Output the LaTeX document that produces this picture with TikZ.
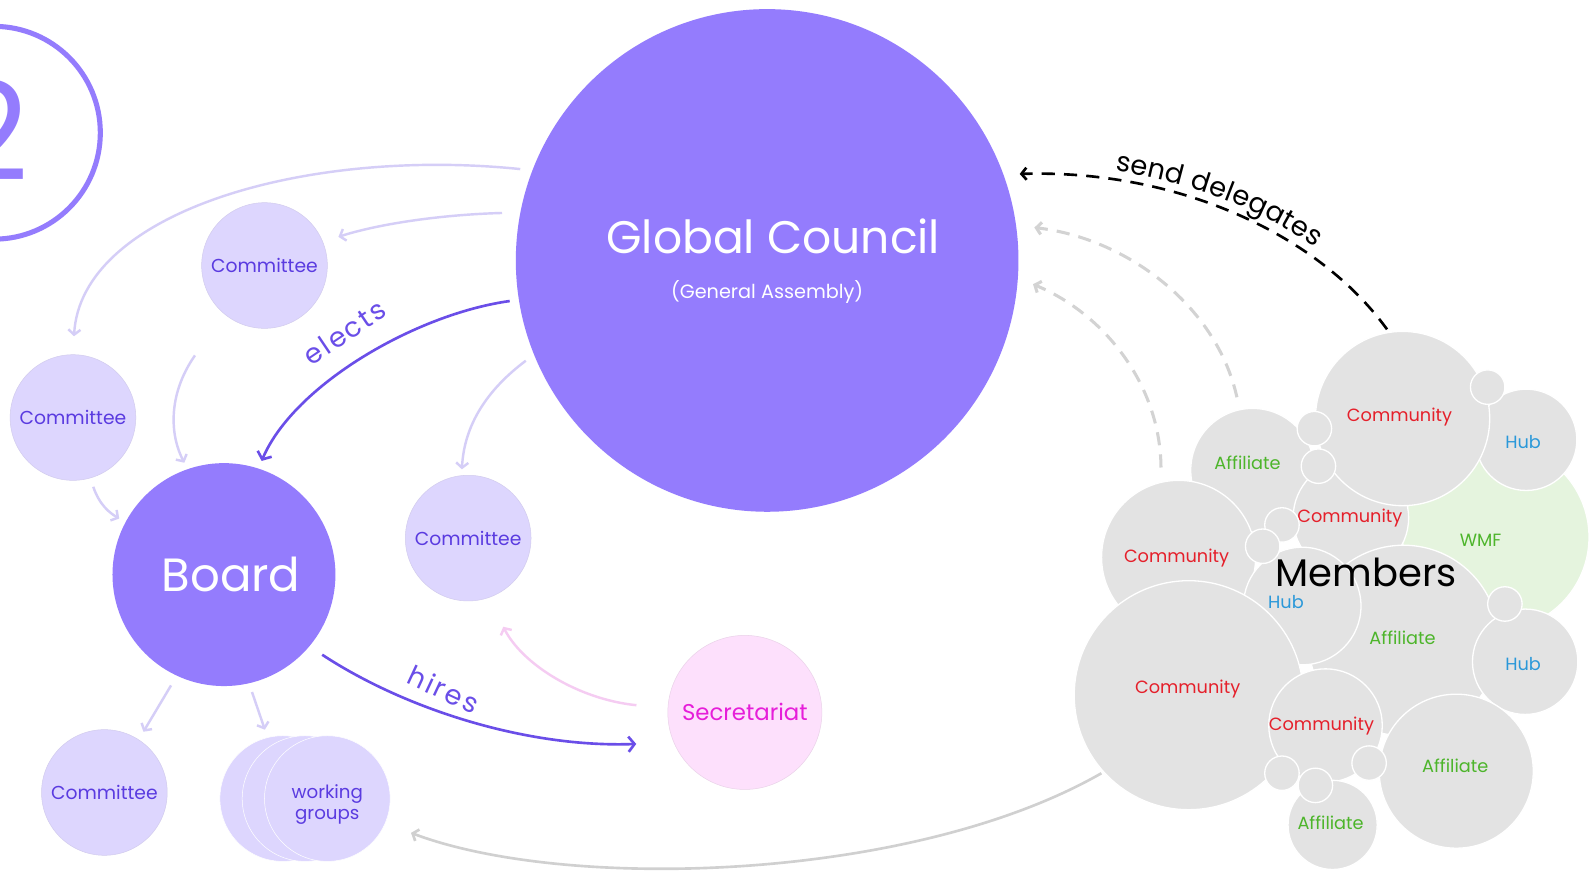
\documentclass[tikz,border=0pt]{standalone}
\usepackage{fontspec}
\setmainfont{Poppins}
\usetikzlibrary{arrows.meta,decorations.text}
\definecolor{gcpurple}{HTML}{947CFD}
\definecolor{lav}{HTML}{DDD6FE}
\definecolor{lavborder}{HTML}{D2CCEE}
\definecolor{lavtext}{HTML}{5A3BE0}
\definecolor{lavarrow}{HTML}{D5CEF7}
\definecolor{darkarrow}{HTML}{6A4EE8}
\definecolor{pinkfill}{HTML}{FDE0FC}
\definecolor{pinktext}{HTML}{E61ED9}
\definecolor{pinkarrow}{HTML}{F5CCF2}
\definecolor{memgray}{HTML}{E3E3E3}
\definecolor{wmfgreen}{HTML}{E5F4DE}
\definecolor{comred}{HTML}{E5202B}
\definecolor{affgreen}{HTML}{4DB52B}
\definecolor{hubblue}{HTML}{2A98D9}
\definecolor{dashgray}{HTML}{D3D3D3}
\definecolor{longgray}{HTML}{D0D0D0}
\tikzset{
  bigc/.style={circle, fill=gcpurple, inner sep=0pt, text=white},
  comm/.style={circle, fill=lav, draw=lavborder, line width=0.5pt, minimum size=124pt, inner sep=0pt, text=lavtext, font=\fontsize{18.5}{22}\selectfont},
  mem/.style={circle, fill=memgray, draw=white, line width=1.3pt, inner sep=0pt},
  comlab/.style={text=comred, font=\fontsize{17.5}{20}\selectfont},
  afflab/.style={text=affgreen, font=\fontsize{17.5}{20}\selectfont},
  hublab/.style={text=hubblue, font=\fontsize{17.5}{20}\selectfont},
  lavarr/.style={draw=lavarrow, line width=2.4pt, -{Straight Barb[length=5pt,width=12pt]}},
  darkarr/.style={draw=darkarrow, line width=2.6pt, -{Straight Barb[length=6pt,width=15pt]}},
  grayarr/.style={draw=dashgray, line width=3pt, dash pattern=on 13pt off 9pt, -{Straight Barb[length=5pt,width=12pt]}},
  blackarr/.style={draw=black, line width=2.6pt, dash pattern=on 13pt off 9pt, -{Straight Barb[length=5pt,width=12pt]}},
  pinkarr/.style={draw=pinkarrow, line width=2.4pt, -{Straight Barb[length=5pt,width=12pt]}},
  longarr/.style={draw=longgray, line width=2.6pt, -{Straight Barb[length=5pt,width=12pt]}},
  arrlab/.style={text=darkarrow, font=\fontsize{27}{30}\selectfont\addfontfeature{LetterSpace=8}}
}
\begin{document}
\begin{tikzpicture}[x=1pt,y=-1pt]
\useasboundingbox[fill=white] (0,0) rectangle (1568,859);

% number badge
\draw[gcpurple, line width=5pt] (-6,131) circle[radius=105pt];
\node[text=gcpurple, font=\fontsize{135}{135}\selectfont] (two) at (-10,128) {2};

% main bodies
\node[bigc, minimum size=496pt] (gc) at (757,257) {};
\node[text=white, font=\fontsize{45}{50}\selectfont] (gctitle) at (763,233) {Global Council};
\node[text=white, font=\fontsize{19}{22}\selectfont] (gcsub) at (757,288) {(General Assembly)};

\node[bigc, minimum size=220pt] (board) at (221,567) {};
\node[text=white, font=\fontsize{46}{50}\selectfont] (boardlab) at (228,567) {Board};

\node[comm] (c1) at (261,262) {Committee};
\node[comm] (c2) at (72,412) {Committee};
\node[comm] (c3) at (462,531) {Committee};
\node[comm] (c4) at (103,782) {Committee};

\node[comm, draw=white] (wg1) at (279,788) {};
\node[comm, draw=white] (wg2) at (301,788) {};
\node[comm, draw=white] (wg3) at (323,788) {};
\node[text=lavtext, font=\fontsize{18}{21}\selectfont, align=center] (wglab) at (323,794) {working\\groups};

\node[circle, fill=pinkfill, draw=pinkfill!85!gray, line width=0.5pt, minimum size=152pt, inner sep=0pt, text=pinktext, font=\fontsize{22.5}{26}\selectfont] (sec) at (735,703) {Secretariat};

% members cluster
\node[mem, fill=wmfgreen, minimum size=184pt] (wmf) at (1476,530) {};
\node[mem, minimum size=100pt] (hubA) at (1506,434) {};
\node[mem, minimum size=122pt] (affA) at (1236,464) {};
\node[mem, minimum size=114pt] (comB) at (1333,511) {};
\node[mem, minimum size=172pt] (comA) at (1384,413) {};
\node[mem, minimum size=152pt] (comC) at (1163,550) {};
\node[mem, minimum size=188pt] (affB) at (1385,632) {};
\node[mem, minimum size=116pt] (hubB) at (1285,598) {};
\node[mem, minimum size=104pt] (hubC) at (1505,653) {};
\node[mem, minimum size=152pt] (affC) at (1437,761) {};
\node[mem, minimum size=226pt] (comD) at (1173,686) {};
\node[mem, minimum size=112pt] (comE) at (1308,716) {};
\node[mem, minimum size=88pt] (affD) at (1315,814) {};

\node[comlab] (lcA) at (1381,412) {Community};
\node[comlab] (lcB) at (1332,511) {Community};
\node[comlab] (lcC) at (1161,551) {Community};
\node[comlab] (lcD) at (1172,680) {Community};
\node[comlab] (lcE) at (1304,716) {Community};
\node[afflab] (laA) at (1231,457) {Affiliate};
\node[afflab] (laB) at (1384,629) {Affiliate};
\node[afflab] (laC) at (1436,756) {Affiliate};
\node[afflab] (laD) at (1313,812) {Affiliate};
\node[hublab] (lhA) at (1503,436) {Hub};
\node[hublab] (lhB) at (1269,594) {Hub};
\node[hublab] (lhC) at (1503,655) {Hub};
\node[afflab] (lwmf) at (1461,533) {WMF};

\foreach \n/\p in {s1/{(1468,382)}, s2/{(1297,423)}, s3/{(1301,460)}, s4/{(1265,518)}, s5/{(1246,539)}, s6/{(1485,596)}, s7/{(1265,763)}, s8/{(1298,775)}, s9/{(1351,753)}}
  \node[mem, minimum size=34pt] (\n) at \p {};

\node[text=black, font=\fontsize{38}{42}\selectfont] (members) at (1348,565) {Members};

% light lavender arrows
\draw[lavarr, shorten <=12pt, shorten >=18pt] (gc.159) .. controls (300,145) and (80,210) .. (c2.90);
\draw[lavarr, shorten <=18pt, shorten >=16pt] (gc.169) .. controls (430,212) and (370,222) .. (c1.22);
\draw[lavarr, shorten <=50pt, shorten >=7pt] (c1.230) .. controls (165,390) and (168,430) .. (board.109);
\draw[lavarr, shorten <=9pt, shorten >=7pt] (c2.-74) .. controls (98,498) and (108,506) .. (board.152);
\draw[lavarr, shorten <=10pt, shorten >=6pt] (gc.202) .. controls (480,385) and (458,420) .. (c3.96);
\draw[lavarr, shorten <=11pt, shorten >=9pt] (board.245) -- (c4.57);
\draw[lavarr, shorten <=9pt, shorten >=8pt] (board.283) -- (wg1.104);

% pink arrow
\draw[pinkarr, shorten <=31pt, shorten >=32pt] (sec.177) .. controls (570,690) and (515,655) .. (c3.289);

% elects / hires
\draw[darkarr, shorten <=9pt, shorten >=8pt] (gc.189) .. controls (410,310) and (290,380) .. (board.72);
\node[arrlab, rotate=34] (elects) at (340,328) {elects};
\draw[darkarr, shorten <=15pt, shorten >=37pt] (board.-40) .. controls (400,700) and (520,738) .. (sec.203);
\node[arrlab, rotate=-25] (hires) at (438,680) {hires};

% delegates
\draw[grayarr, shorten <=12pt, shorten >=18pt] (affA.102) .. controls (1200,300) and (1110,235) .. (gc.8);
\draw[grayarr, shorten <=14pt, shorten >=16pt] (comC.103) .. controls (1145,380) and (1090,310) .. (gc.-4);
\draw[blackarr, shorten <=3pt, shorten >=16pt] (comA.99) .. controls (1300,230) and (1160,167) .. (gc.20);
\path[decorate, decoration={text along path, text align=center, raise=10pt,
  text={|\fontsize{27}{27}\selectfont|send delegates}}]
  (gc.20) .. controls (1160,167) and (1300,230) .. (comA.99);

% long gray arrow
\draw[longarr, shorten <=2pt, shorten >=27pt] (comD.222) .. controls (900,870) and (560,880) .. (wg3.-23);
\end{tikzpicture}
\end{document}
